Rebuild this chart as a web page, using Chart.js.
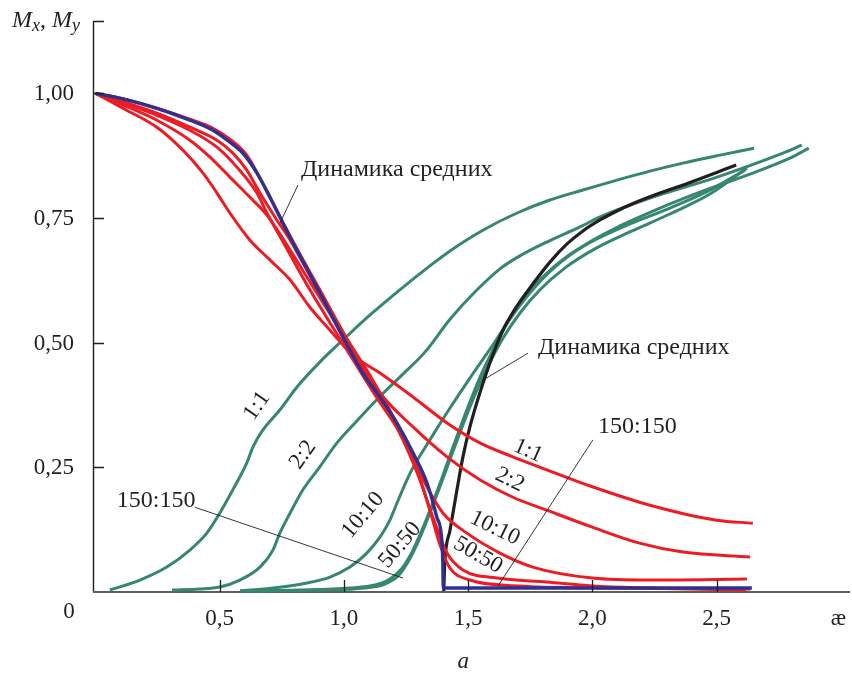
<!DOCTYPE html>
<html>
<head>
<meta charset="utf-8">
<script src="https://cdn.jsdelivr.net/npm/chart.js@4.4.0/dist/chart.umd.min.js"></script>
<style>
  html, body { margin: 0; padding: 0; background: #fff; }
  #wrap { width: 852px; height: 677px; }
</style>
</head>
<body>
<div id="wrap"><canvas id="chart"></canvas></div>
<script>
// M_x (red) curves, [ae, M]
const mx_1_1 = [[0,1],[0.11,0.970],[0.247,0.932],[0.352,0.886],[0.433,0.840],[0.489,0.800],[0.541,0.760],[0.621,0.706],[0.702,0.666],[0.783,0.626],[0.863,0.571],[0.944,0.525],[1.036,0.475],[1.145,0.439],[1.278,0.391],[1.415,0.339],[1.547,0.299],[1.68,0.271],[1.817,0.245],[2.0,0.211],[2.232,0.174],[2.5,0.144],[2.646,0.138]];
const mx_2_2 = [[0,1],[0.11,0.977],[0.247,0.946],[0.38,0.906],[0.461,0.872],[0.541,0.832],[0.621,0.792],[0.69,0.756],[0.742,0.718],[0.783,0.686],[0.883,0.606],[1.004,0.511],[1.145,0.399],[1.278,0.331],[1.415,0.271],[1.547,0.225],[1.68,0.190],[1.817,0.164],[2.0,0.130],[2.19,0.098],[2.365,0.080],[2.635,0.070]];
const mx_10_10 = [[0,1],[0.11,0.981],[0.247,0.956],[0.38,0.926],[0.489,0.892],[0.569,0.852],[0.65,0.800],[0.69,0.760],[0.762,0.696],[0.863,0.606],[1.0,0.495],[1.125,0.395],[1.226,0.319],[1.334,0.211],[1.399,0.158],[1.495,0.118],[1.628,0.078],[1.76,0.050],[2.0,0.028],[2.232,0.024],[2.622,0.026]];
const mx_50_50 = [[0,1],[0.11,0.983],[0.247,0.960],[0.38,0.932],[0.489,0.906],[0.553,0.880],[0.609,0.846],[0.662,0.800],[0.73,0.746],[0.783,0.706],[0.883,0.616],[1.004,0.505],[1.113,0.415],[1.218,0.325],[1.306,0.225],[1.358,0.150],[1.415,0.078],[1.479,0.044],[1.616,0.028],[1.817,0.020],[2.0,0.012],[2.618,0.004]];
const mx_150_150 = [[0,1],[0.11,0.989],[0.247,0.970],[0.38,0.948],[0.473,0.930],[0.541,0.908],[0.609,0.876],[0.662,0.830],[0.714,0.780],[0.783,0.714],[0.903,0.606],[1.004,0.515],[1.104,0.435],[1.205,0.345],[1.286,0.255],[1.346,0.164],[1.387,0.094],[1.427,0.048],[1.507,0.024],[1.709,0.012],[2.03,0.008],[2.635,0.006]];
const mx_mean = [[0,1],[0.11,0.989],[0.247,0.970],[0.38,0.946],[0.473,0.926],[0.541,0.902],[0.593,0.880],[0.65,0.840],[0.702,0.792],[0.754,0.740],[0.81,0.686],[0.903,0.600],[0.996,0.511],[1.076,0.439],[1.145,0.391],[1.213,0.339],[1.278,0.279],[1.334,0.219],[1.374,0.150],[1.395,0.098],[1.398,0.058],[1.40,0.008],[1.45,0.008],[2.0,0.008],[2.642,0.008]];

// M_y (green) curves
const my_1_1 = [[0.058,0.004],[0.179,0.024],[0.287,0.050],[0.38,0.084],[0.448,0.118],[0.50,0.158],[0.553,0.205],[0.609,0.259],[0.634,0.291],[0.674,0.325],[0.742,0.365],[0.811,0.411],[0.903,0.461],[1.004,0.509],[1.104,0.555],[1.225,0.606],[1.346,0.654],[1.427,0.684],[1.561,0.726],[1.697,0.760],[1.829,0.786],[1.962,0.806],[2.099,0.826],[2.232,0.844],[2.365,0.860],[2.514,0.876],[2.651,0.890]];
const my_2_2 = [[0.308,0.004],[0.42,0.006],[0.50,0.010],[0.581,0.024],[0.662,0.050],[0.714,0.084],[0.742,0.118],[0.783,0.158],[0.835,0.205],[0.903,0.251],[0.972,0.299],[1.052,0.343],[1.133,0.386],[1.225,0.431],[1.326,0.481],[1.427,0.547],[1.528,0.602],[1.628,0.648],[1.708,0.674],[1.809,0.700],[1.95,0.732],[2.031,0.752],[2.232,0.790],[2.502,0.832],[2.767,0.880],[2.843,0.896]];
const my_10_10 = [[0.582,0.002],[0.715,0.008],[0.851,0.018],[0.944,0.030],[1.024,0.050],[1.092,0.078],[1.145,0.110],[1.185,0.144],[1.215,0.180],[1.266,0.238],[1.346,0.305],[1.427,0.369],[1.507,0.429],[1.588,0.487],[1.668,0.547],[1.749,0.600],[1.85,0.652],[1.97,0.696],[2.111,0.734],[2.272,0.770],[2.433,0.802],[2.634,0.838],[2.795,0.870],[2.871,0.890]];
const my_50_50 = [[0.582,0.002],[0.823,0.004],[1.024,0.008],[1.125,0.014],[1.185,0.026],[1.234,0.048],[1.274,0.080],[1.314,0.124],[1.354,0.174],[1.395,0.229],[1.435,0.285],[1.475,0.339],[1.515,0.391],[1.555,0.439],[1.596,0.481],[1.648,0.531],[1.708,0.580],[1.789,0.626],[1.89,0.670],[2.01,0.706],[2.151,0.738],[2.312,0.770],[2.473,0.806],[2.614,0.846]];
const my_150_150 = [[0.622,0.002],[0.903,0.004],[1.084,0.008],[1.165,0.016],[1.218,0.032],[1.258,0.060],[1.298,0.100],[1.338,0.148],[1.378,0.200],[1.419,0.255],[1.459,0.309],[1.499,0.361],[1.539,0.409],[1.588,0.461],[1.640,0.509],[1.708,0.559],[1.789,0.606],[1.89,0.650],[2.01,0.688],[2.151,0.722],[2.312,0.758],[2.473,0.798],[2.622,0.850]];
const my_mean = [[1.402,0.002],[1.406,0.058],[1.427,0.124],[1.455,0.205],[1.479,0.271],[1.507,0.331],[1.547,0.399],[1.596,0.471],[1.64,0.525],[1.696,0.573],[1.761,0.618],[1.83,0.662],[1.898,0.698],[1.962,0.724],[2.031,0.746],[2.099,0.764],[2.164,0.779],[2.272,0.800],[2.366,0.816],[2.579,0.856]];

const yTicks = [0.25, 0.5, 0.75, 1.0];
const yTickLabels = ["0,25", "0,50", "0,75", "1,00"];
const xTicks = [0.5, 1.0, 1.5, 2.0, 2.5];
const xTickLabels = ["0,5", "1,0", "1,5", "2,0", "2,5"];

const RED = "#ed1c24", GREEN = "#368670", BLUE = "#2e3192", BLACK = "#231f20";
const SERIF = '"Liberation Serif", "Times New Roman", serif';

function curve(points, color, width, order) {
  return {
    data: points.map(p => ({ x: p[0], y: p[1] })),
    borderColor: color,
    borderWidth: width,
    pointRadius: 0,
    cubicInterpolationMode: "monotone",
    fill: false,
    clip: false,
    order: order
  };
}

// text, leader lines and axis ticks, placed in data units
const decorations = {
  id: "decorations",
  beforeDatasetsDraw(chart) {
    const { ctx, chartArea: a } = chart;
    ctx.save();
    ctx.strokeStyle = BLACK;
    ctx.lineWidth = 1.4;
    ctx.beginPath();
    ctx.moveTo(a.left + 0.5, a.top);
    ctx.lineTo(a.left + 0.5, a.bottom);
    ctx.stroke();
    ctx.strokeStyle = "#5e5e5e";
    ctx.lineWidth = 2;
    ctx.beginPath();
    ctx.moveTo(a.left, a.bottom);
    ctx.lineTo(a.right, a.bottom);
    ctx.stroke();
    ctx.restore();
  },
  afterDatasetsDraw(chart) {
    const { ctx, chartArea: a } = chart;
    const sx = chart.scales.x, sy = chart.scales.y;
    const X = v => sx.getPixelForValue(v), Y = v => sy.getPixelForValue(v);
    ctx.save();
    ctx.strokeStyle = BLACK;
    ctx.lineWidth = 1.3;
    ctx.beginPath();
    yTicks.concat([sy.max]).forEach(t => {
      const y = Math.round(Y(t)) + 0.5;
      ctx.moveTo(a.left, y); ctx.lineTo(a.left + 11, y);
    });
    xTicks.forEach(t => {
      const x = Math.round(X(t)) + 0.5;
      ctx.moveTo(x, a.bottom); ctx.lineTo(x, a.bottom - 12);
    });
    ctx.stroke();

    ctx.fillStyle = BLACK;
    ctx.font = "23px " + SERIF;
    ctx.textBaseline = "middle";
    ctx.textAlign = "right";
    yTicks.forEach((t, i) => ctx.fillText(yTickLabels[i], a.left - 19, Y(t) + 1));
    ctx.textAlign = "center";
    xTicks.forEach((t, i) => ctx.fillText(xTickLabels[i], X(t), a.bottom + 27));
    ctx.fillText("0", a.left - 24, a.bottom + 20);
    ctx.fillText("æ", X(2.99), a.bottom + 27);
    ctx.font = "italic 23px " + SERIF;
    ctx.fillText("a", X(1.48), a.bottom + 70);

    // axis title M_x, M_y
    ctx.textAlign = "left";
    ctx.textBaseline = "alphabetic";
    let cx = 12;
    const part = (s, font, dy) => {
      ctx.font = font;
      ctx.fillText(s, cx, 27 + dy);
      cx += ctx.measureText(s).width;
    };
    part("M", "italic 24px " + SERIF, 0);
    part("x", "italic 18px " + SERIF, 4);
    part(", ", "24px " + SERIF, 0);
    part("M", "italic 24px " + SERIF, 0);
    part("y", "italic 18px " + SERIF, 4);

    // annotations
    ctx.font = "24px " + SERIF;
    ctx.textBaseline = "middle";
    ctx.fillText("Динамика средних", X(0.827), Y(0.846));
    ctx.fillText("Динамика средних", X(1.781), Y(0.489));
    ctx.fillText("150:150", X(2.023), Y(0.331));
    ctx.fillText("150:150", X(0.086), Y(0.184));

    ctx.lineWidth = 0.9;
    ctx.beginPath();
    [[0.815, 0.816, 0.743, 0.740], [1.741, 0.479, 1.56, 0.425],
     [2.002, 0.305, 1.62, 0.012], [0.40, 0.170, 1.238, 0.028]].forEach(l => {
      ctx.moveTo(X(l[0]), Y(l[1])); ctx.lineTo(X(l[2]), Y(l[3]));
    });
    ctx.stroke();

    // rotated curve labels
    ctx.font = "23px " + SERIF;
    ctx.textAlign = "center";
    [["1:1", 0.65, 0.373, -55], ["2:2", 0.835, 0.275, -55],
     ["10:10", 1.077, 0.154, -50], ["50:50", 1.226, 0.094, -50],
     ["1:1", 1.741, 0.283, 24], ["2:2", 1.668, 0.225, 26],
     ["10:10", 1.608, 0.128, 26], ["50:50", 1.54, 0.074, 30]].forEach(l => {
      ctx.save();
      ctx.translate(X(l[1]), Y(l[2]));
      ctx.rotate(l[3] * Math.PI / 180);
      ctx.fillText(l[0], 0, 0);
      ctx.restore();
    });
    ctx.restore();
  }
};

new Chart(document.getElementById("chart"), {
  type: "line",
  data: {
    datasets: [
      curve(mx_mean, BLUE, 3.4, 1),
      curve(mx_150_150, RED, 3, 2),
      curve(mx_50_50, RED, 3, 2),
      curve(mx_10_10, RED, 3, 2),
      curve(mx_2_2, RED, 3, 2),
      curve(mx_1_1, RED, 3, 2),
      curve(my_mean, BLACK, 3.2, 3),
      curve(my_150_150, GREEN, 3, 4),
      curve(my_50_50, GREEN, 3, 4),
      curve(my_10_10, GREEN, 3, 4),
      curve(my_2_2, GREEN, 3, 4),
      curve(my_1_1, GREEN, 3, 4)
    ]
  },
  options: {
    responsive: true,
    maintainAspectRatio: false,
    animation: false,
    layout: { padding: { top: 21, right: 2, left: 0, bottom: 0 } },
    scales: {
      x: {
        type: "linear",
        min: -0.01,
        max: 3.037,
        grid: { display: false },
        border: { display: false },
        ticks: { display: false },
        afterFit: s => { s.height = 85; }
      },
      y: {
        min: 0,
        max: 1.145,
        grid: { display: false },
        border: { display: false },
        ticks: { display: false },
        afterFit: s => { s.width = 93; }
      }
    },
    plugins: {
      legend: { display: false },
      tooltip: { enabled: false }
    }
  },
  plugins: [decorations]
});
</script>
</body>
</html>
